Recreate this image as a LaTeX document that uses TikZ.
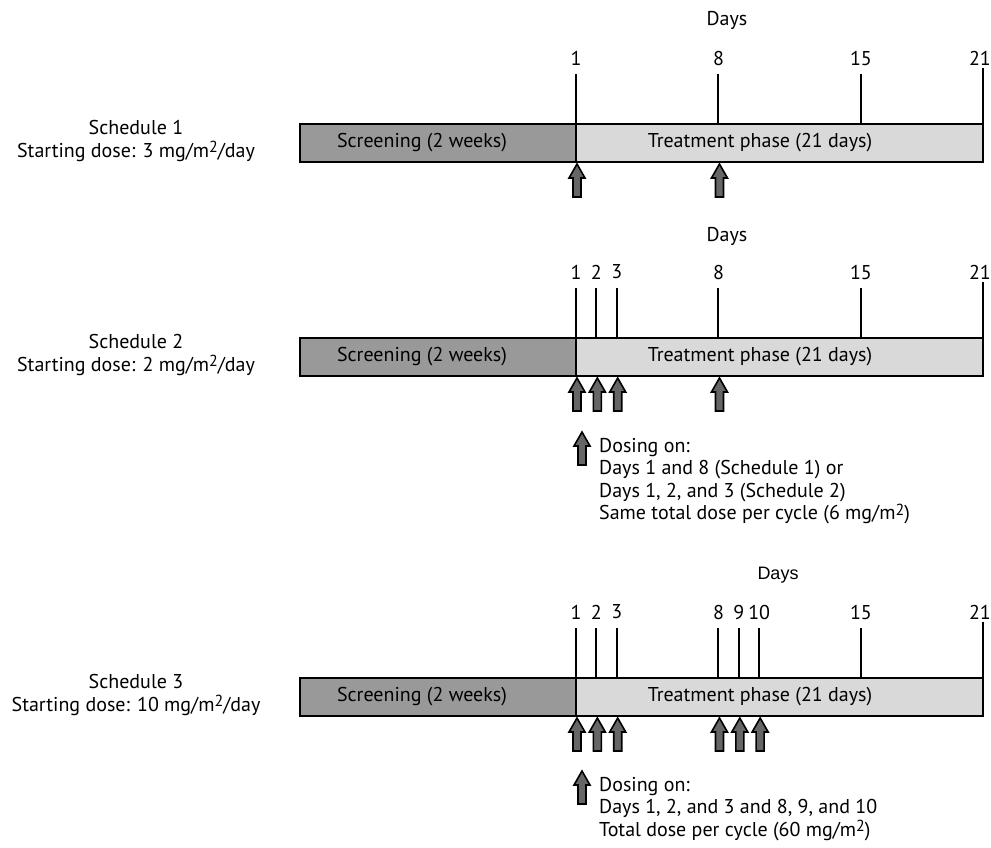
\documentclass[tikz,border=0pt]{standalone}
\usepackage{fontspec}
\setmainfont{PT Sans}
\newfontfamily\helv{Liberation Sans}
\definecolor{screengray}{HTML}{999999}
\definecolor{treatgray}{HTML}{D9D9D9}
\definecolor{arrowgray}{HTML}{666666}
\newcommand{\msq}{m\raisebox{0.45ex}{\fontsize{16pt}{16pt}\selectfont 2}}
\begin{document}
\begin{tikzpicture}[x=1pt,y=-1pt,
  lbl/.style={font=\fontsize{20pt}{22.5pt}\selectfont, inner sep=0pt},
  tickline/.style={line width=2pt},
  barframe/.style={draw=black, line width=2pt},
  dosearrow/.pic={\filldraw[fill=arrowgray, draw=black, line width=1.6pt, line join=miter]
     (0,0) -- (8,14) -- (4,14) -- (4,33) -- (-4,33) -- (-4,14) -- (-8,14) -- cycle;}
]
\useasboundingbox (0,0) rectangle (991,847);

\foreach \T/\n/\ticks/\arrows in {124/1/{1,8,15}/{1,8}, 338/2/{1,2,3,8,15}/{1,2,3,8}, 678/3/{1,2,3,8,9,10,15}/{1,2,3,8,9,10}}{
  \fill[screengray] (300,\T) rectangle (576,\T+38);
  \fill[treatgray] (576,\T) rectangle (983,\T+38);
  \draw[barframe] (300,\T) rectangle (983,\T+38);
  \draw[barframe] (576,\T) -- (576,\T+38);
  \node[lbl] (scr\n) at (422,\T+19) {Screening (2 weeks)};
  \node[lbl] (trt\n) at (760,\T+19) {Treatment phase (21 days)};
  \foreach \d in \ticks {
    \pgfmathsetmacro\xx{576+(\d-1)*20.35}
    \draw[tickline] (\xx,\T-50) -- (\xx,\T);
    \node[lbl] (d\n-\d) at (\xx,\T-66) {\d};
  }
  \draw[tickline] (983,\T-56) -- (983,\T);
  \node[lbl, anchor=east] (d\n-21) at (991,\T-66) {21};
  \foreach \d in \arrows {
    \pgfmathsetmacro\xx{576+(\d-1)*20.35}
    \pic at (\xx+1,\T+40) {dosearrow};
  }
}

\node[lbl] (days1) at (727,20) {Days};
\node[lbl] (days2) at (727,236) {Days};
\node[lbl, font=\fontsize{18pt}{22pt}\helv] (days3) at (778,575) {Days};

\node[lbl, align=center] (sch1) at (136,141) {Schedule 1\\Starting dose: 3 mg/\msq/day};
\node[lbl, align=center] (sch2) at (136,355) {Schedule 2\\Starting dose: 2 mg/\msq/day};
\node[lbl, align=center] (sch3) at (136,695) {Schedule 3\\Starting dose: 10 mg/\msq/day};

\pic at (582,432) {dosearrow};
\node[lbl, align=left, anchor=north west] (leg1) at (599,438)
  {Dosing on:\\Days 1 and 8 (Schedule 1) or\\Days 1, 2, and 3 (Schedule 2)\\Same total dose per cycle (6 mg/\msq)};

\pic at (582,771) {dosearrow};
\node[lbl, align=left, anchor=north west] (leg2) at (599,777)
  {Dosing on:\\Days 1, 2, and 3 and 8, 9, and 10\\Total dose per cycle (60 mg/\msq)};
\end{tikzpicture}
\end{document}
